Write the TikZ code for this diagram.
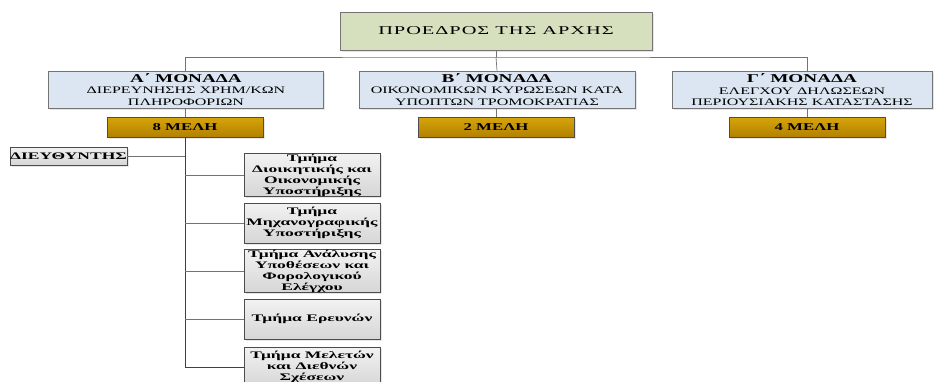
\documentclass[tikz,border=0pt]{standalone}
\usepackage{fontspec}
\setmainfont{Liberation Serif}
\newfontfamily\unitfont[FakeStretch=1.6]{Liberation Serif}
\newfontfamily\boxfont[FakeStretch=1.75]{Liberation Serif}
\newfontfamily\titlefont[FakeStretch=1.7,LetterSpace=8]{Liberation Serif}
\usetikzlibrary{shadows}
\definecolor{presfill}{RGB}{215,224,190}
\definecolor{unitfill}{RGB}{220,230,242}
\definecolor{memtop}{RGB}{214,165,10}
\definecolor{membot}{RGB}{178,128,0}
\definecolor{greytop}{RGB}{242,242,242}
\definecolor{greybot}{RGB}{214,214,214}
\tikzset{
BOX/.style ={draw=#1,line width=0.7pt,align=center,inner sep=0pt,drop shadow={opacity=0.2,shadow xshift=1.5pt,shadow yshift=-1.5pt}},
BOX/.default = black!55,
PRES/.style ={BOX,fill=presfill,minimum width=312pt,minimum height=38pt,font=\titlefont\fontsize{12}{13}\selectfont},
UNIT/.style ={BOX,fill=unitfill,minimum height=37pt,font=\unitfont\fontsize{10}{11.5}\selectfont},
MEMBERS/.style ={BOX=black!70,top color=memtop,bottom color=membot,minimum width=156pt,minimum height=20pt,font=\unitfont\bfseries\fontsize{10.5}{12}\selectfont},
GREYBOX/.style ={BOX=black!70,top color=greytop,bottom color=greybot,font=\boxfont\bfseries\fontsize{10}{11}\selectfont},
DEPT/.style ={GREYBOX,minimum width=136pt,minimum height=40pt},
LINK/.style ={draw=black!55,line width=0.7pt},
TRUNK/.style ={draw=black!75,line width=0.7pt},
}
\begin{document}
\begin{tikzpicture}[x=1pt,y=-1pt] %organogram
	\useasboundingbox (0,0) rectangle (936,381);
	\node[PRES] (pres) at (496,31) {ΠΡΟΕΔΡΟΣ ΤΗΣ ΑΡΧΗΣ};
	\node[UNIT,minimum width=275pt] (unitA) at (186,89.5) {{\bfseries\fontsize{12}{12}\selectfont Α΄ ΜΟΝΑΔΑ}\\ΔΙΕΡΕΥΝΗΣΗΣ ΧΡΗΜ/ΚΩΝ\\ΠΛΗΡΟΦΟΡΙΩΝ};
	\node[UNIT,minimum width=276pt] (unitB) at (497,89.5) {{\bfseries\fontsize{12}{12}\selectfont Β΄ ΜΟΝΑΔΑ}\\ΟΙΚΟΝΟΜΙΚΩΝ ΚΥΡΩΣΕΩΝ ΚΑΤΑ\\ΥΠΟΠΤΩΝ ΤΡΟΜΟΚΡΑΤΙΑΣ};
	\node[UNIT,minimum width=260pt] (unitC) at (802,90) {{\bfseries\fontsize{12}{12}\selectfont Γ΄ ΜΟΝΑΔΑ}\\ΕΛΕΓΧΟΥ ΔΗΛΩΣΕΩΝ\\ΠΕΡΙΟΥΣΙΑΚΗΣ ΚΑΤΑΣΤΑΣΗΣ};
	\node[MEMBERS] (memA) at (185,127) {8 ΜΕΛΗ};
	\node[MEMBERS] (memB) at (496,127) {2 ΜΕΛΗ};
	\node[MEMBERS] (memC) at (807,127) {4 ΜΕΛΗ};
	\node[GREYBOX,minimum width=117pt,minimum height=18pt] (director) at (68.5,156) {ΔΙΕΥΘΥΝΤΗΣ};
	\node[DEPT] (dept1) at (312,175) {Τμήμα\\Διοικητικής και\\Οικονομικής\\Υποστήριξης};
	\node[DEPT] (dept2) at (312,223) {Τμήμα\\Μηχανογραφικής\\Υποστήριξης};
	\node[DEPT] (dept3) at (312,271) {Τμήμα Ανάλυσης\\Υποθέσεων και\\Φορολογικού\\Ελέγχου};
	\node[DEPT] (dept4) at (312,319) {Τμήμα Ερευνών};
	\node[DEPT] (dept5) at (312,367) {Τμήμα Μελετών\\και Διεθνών\\Σχέσεων};
	\coordinate (bus) at (496,57);
	\path[LINK] (pres.south) -- (bus);
	\path[LINK] (unitA.north -| memA.north) |- (bus) -| (unitC.north -| memC.north);
	\path[LINK] (bus) -- (unitB.north);
	\foreach \u in {A,B,C}
		\path[LINK] (unit\u.south -| mem\u.north) -- (mem\u.north);
	\path[TRUNK] (memA.south) |- (dept5.west);
	\path[LINK] (director.east) -- (director.east -| memA.south);
	\foreach \d in {1,...,4}
		\path[LINK] (dept\d.west) -- (dept\d.west -| memA.south);
\end{tikzpicture}
\end{document}
